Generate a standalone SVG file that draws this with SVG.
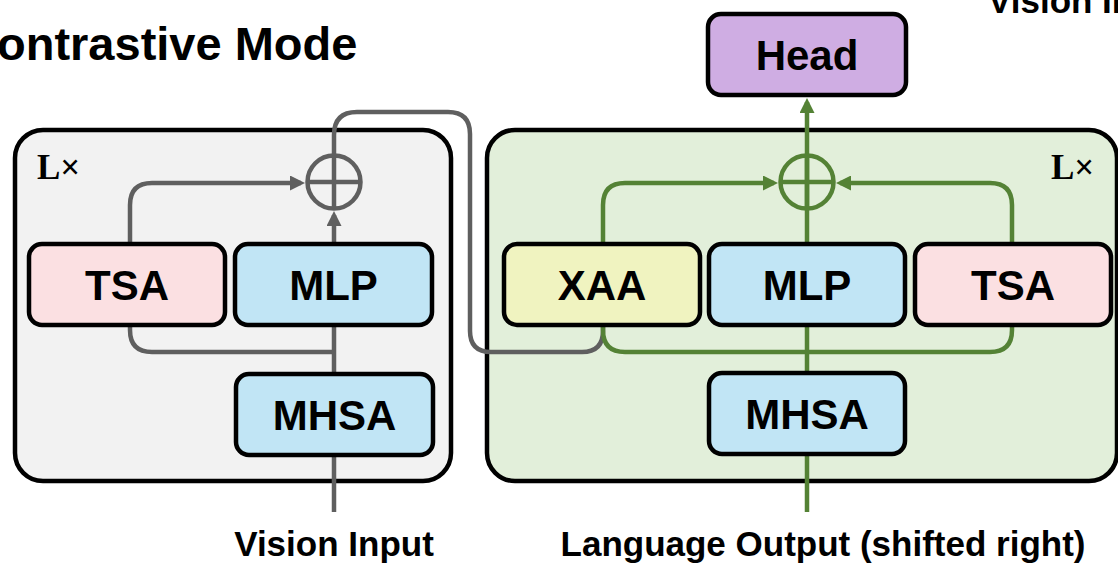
<svg xmlns="http://www.w3.org/2000/svg" width="1118" height="563" viewBox="0 0 1118 563">
  <style>
    .lbl { font-family: "Liberation Sans", Arial, sans-serif; font-weight: bold; fill: #000; }
    .node-text { font-family: "Liberation Sans", Arial, sans-serif; font-weight: bold; font-size: 42px; fill: #000; text-anchor: middle; }
    .lx { font-family: "Liberation Serif", "Times New Roman", serif; font-weight: bold; font-size: 35px; fill: #000; }
    .container { stroke: #000; stroke-width: 4.5; }
    .node { stroke: #000; stroke-width: 4.5; }
    .gray { fill: none; stroke: #5f5f5f; stroke-width: 4.5; }
    .green { fill: none; stroke: #548235; stroke-width: 4.5; }
    .blue { fill: #c1e5f5; }
    .pink { fill: #fbe0e2; }
    .yellow { fill: #f0f3c0; }
    .purple { fill: #cfade3; }
  </style>
  <defs>
    <marker id="ag" markerUnits="userSpaceOnUse" markerWidth="15" markerHeight="15" viewBox="0 0 15 15" refX="11" refY="7.5" orient="auto">
      <path d="M0,0 L15,7.5 L0,15 z" fill="#5f5f5f"/>
    </marker>
    <marker id="agr" markerUnits="userSpaceOnUse" markerWidth="15" markerHeight="15" viewBox="0 0 15 15" refX="11" refY="7.5" orient="auto">
      <path d="M0,0 L15,7.5 L0,15 z" fill="#548235"/>
    </marker>
  </defs>

  <!-- titles / labels -->
  <text class="lbl" x="-3" y="60" font-size="47">ontrastive Mode</text>
  <text class="lbl" x="988" y="13" font-size="35">Vision In</text>

  <!-- containers -->
  <g id="left-block">
    <rect class="container" x="15" y="130" width="436" height="351" rx="28" fill="#f2f2f2"/>
    <text class="lx" x="37" y="179">L×</text>
  </g>
  <g id="right-block">
    <rect class="container" x="487" y="130" width="630" height="351" rx="28" fill="#e2efda"/>
    <text class="lx" x="1051" y="179">L×</text>
  </g>

  <!-- connectors -->
  <g id="connectors">
    <!-- left (vision) -->
    <path class="gray" d="M334 512 V215" marker-end="url(#ag)"/>
    <path class="gray" d="M130 244 V205 Q130 183 152 183 H301" marker-end="url(#ag)"/>
    <path class="gray" d="M130 324 V330 Q130 352 152 352 H334"/>
    <path class="gray" d="M334 156 V135 Q334 112 357 112 H448 Q470 112 470 134 V331 Q470 352 491 352 H582 Q603 352 603 331 V325"/>
    <!-- right (language) -->
    <path class="green" d="M807 512 V102" marker-end="url(#agr)"/>
    <path class="green" d="M603 244 V205 Q603 183 625 183 H774" marker-end="url(#agr)"/>
    <path class="green" d="M1012 244 V205 Q1012 183 990 183 H840" marker-end="url(#agr)"/>
    <path class="green" d="M603 325 V330 Q603 352 625 352 H990 Q1012 352 1012 330 V325"/>
  </g>

  <!-- adders -->
  <g id="add-left">
    <circle cx="334" cy="182" r="26.5" fill="none" stroke="#5f5f5f" stroke-width="4.5"/>
    <path d="M307.5 182 H360.5 M334 155.5 V208.5" stroke="#5f5f5f" stroke-width="4.5" fill="none"/>
  </g>
  <g id="add-right">
    <circle cx="807" cy="182" r="26.5" fill="none" stroke="#548235" stroke-width="4.5"/>
    <path d="M780.5 182 H833.5 M807 155.5 V208.5" stroke="#548235" stroke-width="4.5" fill="none"/>
  </g>

  <!-- nodes -->
  <g id="tsa-left">
    <rect class="node pink" x="29" y="244" width="196" height="81" rx="13"/>
    <text class="node-text" x="127" y="300">TSA</text>
  </g>
  <g id="mlp-left">
    <rect class="node blue" x="235" y="244" width="197" height="81" rx="13"/>
    <text class="node-text" x="333.5" y="300">MLP</text>
  </g>
  <g id="mhsa-left">
    <rect class="node blue" x="236" y="374" width="197" height="81" rx="13"/>
    <text class="node-text" x="334.5" y="430">MHSA</text>
  </g>
  <g id="xaa">
    <rect class="node yellow" x="504" y="244" width="196" height="81" rx="13"/>
    <text class="node-text" x="602" y="300">XAA</text>
  </g>
  <g id="mlp-right">
    <rect class="node blue" x="709" y="244" width="196" height="81" rx="13"/>
    <text class="node-text" x="807" y="300">MLP</text>
  </g>
  <g id="tsa-right">
    <rect class="node pink" x="915" y="244" width="196" height="81" rx="13"/>
    <text class="node-text" x="1013" y="300">TSA</text>
  </g>
  <g id="mhsa-right">
    <rect class="node blue" x="709" y="373" width="196" height="81" rx="13"/>
    <text class="node-text" x="807" y="429">MHSA</text>
  </g>
  <g id="head">
    <rect class="node purple" x="708" y="14" width="198" height="81" rx="13"/>
    <text class="node-text" x="807" y="70">Head</text>
  </g>

  <!-- bottom labels -->
  <text class="lbl" x="334" y="556" font-size="35" text-anchor="middle">Vision Input</text>
  <text class="lbl" x="823" y="556" font-size="35" text-anchor="middle">Language Output (shifted right)</text>
</svg>
